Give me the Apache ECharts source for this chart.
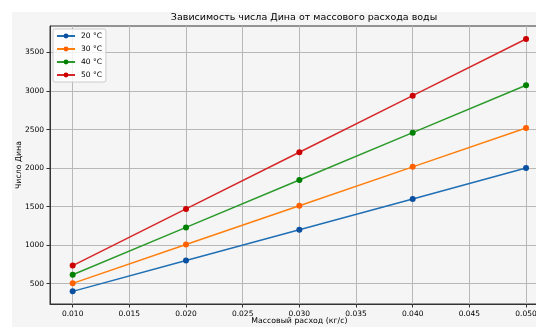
<!DOCTYPE html>
<html><head><meta charset="utf-8">
<script src="https://cdn.jsdelivr.net/npm/echarts@6/dist/echarts.min.js"></script>
<style>html,body{margin:0;padding:0;background:#fff}#c{width:536px;height:327px}</style>
</head><body><div id="c"></div>
<script>
const flowRates = [0.010, 0.020, 0.030, 0.040, 0.050];
const seriesNames = ['20 °C', '30 °C', '40 °C', '50 °C'];
const dean20 = [400, 800, 1200, 1600, 2000];
const dean30 = [504, 1008, 1512, 2016, 2520];
const dean40 = [615, 1230, 1845, 2460, 3075];
const dean50 = [735, 1470, 2205, 2940, 3675];
const xTicks = [0.010, 0.015, 0.020, 0.025, 0.030, 0.035, 0.040, 0.045, 0.050];
const yTicks = [500, 1000, 1500, 2000, 2500, 3000, 3500];

const lineColors = ['#1f6fb4', '#ff7f0e', '#2a9a2a', '#d62728'];
const markerColors = ['#0b4fa0', '#ff6000', '#008000', '#cc0000'];
const allVals = [dean20, dean30, dean40, dean50];

const font = 'DejaVu Sans';
const chart = echarts.init(document.getElementById('c'), null, {renderer: 'canvas'});
chart.setOption({
  animation: false,
  backgroundColor: '#ffffff',
  graphic: [{type: 'rect', shape: {x: 12, y: 12, width: 524, height: 315}, style: {fill: '#f5f5f5'}, z: -10, silent: true}],
  title: {
    text: 'Зависимость числа Дина от массового расхода воды',
    left: 299, top: 8, textAlign: 'center',
    textStyle: {fontFamily: font, fontSize: 9.5, fontWeight: 'normal', color: '#000'}
  },
  legend: {
    orient: 'vertical', left: 53, top: 29,
    itemWidth: 18, itemHeight: 6, itemGap: 5,
    padding: [3, 4, 3, 3],
    backgroundColor: 'rgba(255,255,255,0.8)', borderColor: '#cccccc', borderWidth: 1, borderRadius: 2,
    textStyle: {fontFamily: font, fontSize: 7.5, color: '#000', padding: [0, 0, 0, 1]},
    data: seriesNames
  },
  grid: {left: 50, top: 26, width: 498.7, height: 278, show: true, backgroundColor: '#f5f5f5', borderColor: '#333', borderWidth: 1, containLabel: false, outerBoundsMode: 'none'},
  xAxis: {
    type: 'value', min: 0.008, max: 0.052,
    name: 'Массовый расход (кг/с)', nameLocation: 'middle', nameGap: 13, nameMoveOverlap: false,
    nameTextStyle: {fontFamily: font, fontSize: 7.8, color: '#000'},
    axisLine: {show: true, onZero: false, lineStyle: {color: '#333', width: 1}},
    axisTick: {show: true, length: 3.5, customValues: xTicks, lineStyle: {color: '#333'}},
    axisLabel: {customValues: xTicks, fontFamily: font, fontSize: 7.5, color: '#000', margin: 6,
      formatter: v => v.toFixed(3)},
    splitLine: {show: true, lineStyle: {color: '#b8b8b8', width: 1}}
  },
  yAxis: {
    type: 'value', min: 236, max: 3844,
    name: 'Число Дина', nameLocation: 'middle', nameGap: 27, nameRotate: 90, nameMoveOverlap: false,
    nameTextStyle: {fontFamily: font, fontSize: 7.8, color: '#000'},
    axisLine: {show: true, onZero: false, lineStyle: {color: '#333', width: 1}},
    axisTick: {show: true, length: 3.5, customValues: yTicks, lineStyle: {color: '#333'}},
    axisLabel: {customValues: yTicks, fontFamily: font, fontSize: 7.5, color: '#000', margin: 6,
      formatter: v => String(Math.round(v))},
    splitLine: {show: true, lineStyle: {color: '#b8b8b8', width: 1}}
  },
  series: seriesNames.map((n, i) => ({
    name: n, type: 'line',
    data: flowRates.map((x, j) => [x, allVals[i][j]]),
    symbol: 'circle', symbolSize: 6, clip: false,
    lineStyle: {color: lineColors[i], width: 1.5},
    itemStyle: {color: markerColors[i]},
    emphasis: {disabled: true}
  }))
});
</script></body></html>
